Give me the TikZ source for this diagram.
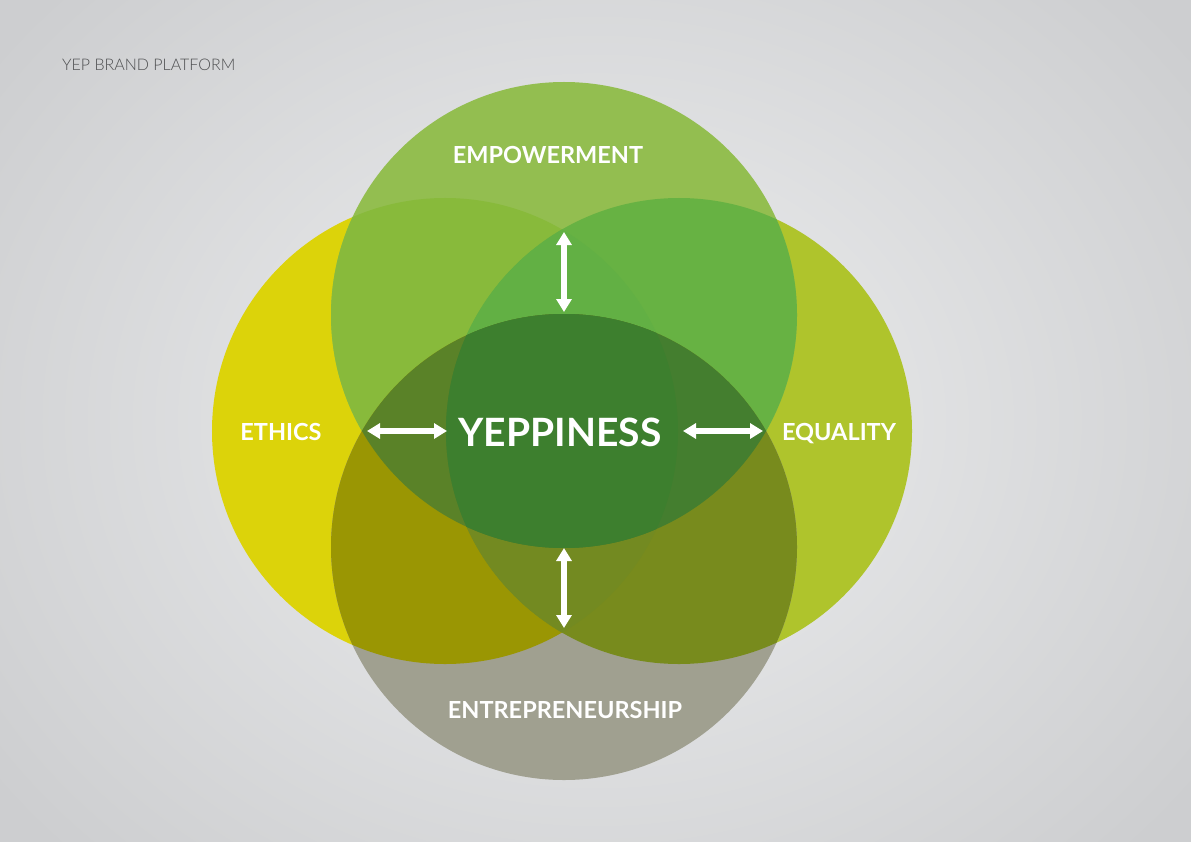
\documentclass[tikz,border=0pt]{standalone}
\usepackage{fontspec}
\setmainfont{Lato}
\newfontfamily\thinfont{Lato Light}
\usetikzlibrary{arrows.meta}

\definecolor{bgin}{HTML}{EEEFF0}
\definecolor{bgout}{HTML}{CDCED0}
\definecolor{headgrey}{HTML}{4D4E50}
\definecolor{colL}{HTML}{DCD30A}
\definecolor{colR}{HTML}{AFC42C}
\definecolor{colT}{HTML}{93BE50}
\definecolor{colB}{HTML}{A0A090}
\definecolor{colTL}{HTML}{88BA3B}
\definecolor{colTR}{HTML}{67B243}
\definecolor{colBL}{HTML}{9A9603}
\definecolor{colBR}{HTML}{788B1D}
\definecolor{colTLR}{HTML}{62B044}
\definecolor{colBLR}{HTML}{738A21}
\definecolor{colTLB}{HTML}{5A8228}
\definecolor{colTRB}{HTML}{447E2F}
\definecolor{colAll}{HTML}{3D7F2E}

% the four circles
\def\cT{(564,315) circle[radius=233bp]}
\def\cB{(564,547) circle[radius=233bp]}
\def\cL{(445,431) circle[radius=233bp]}
\def\cR{(679,431) circle[radius=233bp]}

\begin{document}
\begin{tikzpicture}[
  x=1bp, y=-1bp,
  tag/.style={anchor=base, inner sep=0pt, text=white, font=\bfseries\fontsize{23.5bp}{23.5bp}\selectfont},
  arr/.style={draw=white, line width=5.5bp, {Triangle[length=13bp,width=15bp]}-{Triangle[length=13bp,width=15bp]}}
]
\useasboundingbox (0,0) rectangle (1191,842);
\shade[inner color=bgin, outer color=bgout] (-150,-200) rectangle (1341,1042);

% plain circles
\fill[colL] \cL;
\fill[colR] \cR;
\fill[colT] \cT;
\fill[colB] \cB;
% overlaps
\begin{scope}\clip \cT; \fill[colTL] \cL; \end{scope}
\begin{scope}\clip \cT; \fill[colTR] \cR; \end{scope}
\begin{scope}\clip \cB; \fill[colBL] \cL; \end{scope}
\begin{scope}\clip \cB; \fill[colBR] \cR; \end{scope}
\begin{scope}\clip \cT; \clip \cL; \fill[colTLR] \cR; \end{scope}
\begin{scope}\clip \cB; \clip \cL; \fill[colBLR] \cR; \end{scope}
\begin{scope}\clip \cT; \clip \cB; \fill[colTLB] \cL; \end{scope}
\begin{scope}\clip \cT; \clip \cB; \fill[colTRB] \cR; \end{scope}
\begin{scope}\clip \cT; \clip \cB; \clip \cL; \fill[colAll] \cR; \end{scope}

\node[anchor=base west, inner sep=0pt, text=headgrey, font=\thinfont\fontsize{16bp}{16bp}\selectfont] (title) at (62,70) {YEP BRAND PLATFORM};

\node[tag] (empower) at (548,163) {EMPOWERMENT};
\node[tag] (ethics) at (281,440) {ETHICS};
\node[tag] (equal) at (839,440) {EQUALITY};
\node[tag] (entre) at (565,718) {ENTREPRENEURSHIP};
\node[tag, font=\bfseries\fontsize{39bp}{39bp}\selectfont] (yep) at (560,446) {YEPPINESS};

\coordinate (lrtop) at (564,232);
\coordinate (ctop) at (564,312);
\coordinate (cbot) at (564,548);
\coordinate (lrbot) at (564,628);
\coordinate (tbleft) at (367,431);
\coordinate (cleft) at (447,431);
\coordinate (cright) at (683,431);
\coordinate (tbright) at (763,431);

\draw[arr] (lrtop) -- (ctop);
\draw[arr] (cbot) -- (lrbot);
\draw[arr] (tbleft) -- (cleft);
\draw[arr] (cright) -- (tbright);
\end{tikzpicture}
\end{document}
